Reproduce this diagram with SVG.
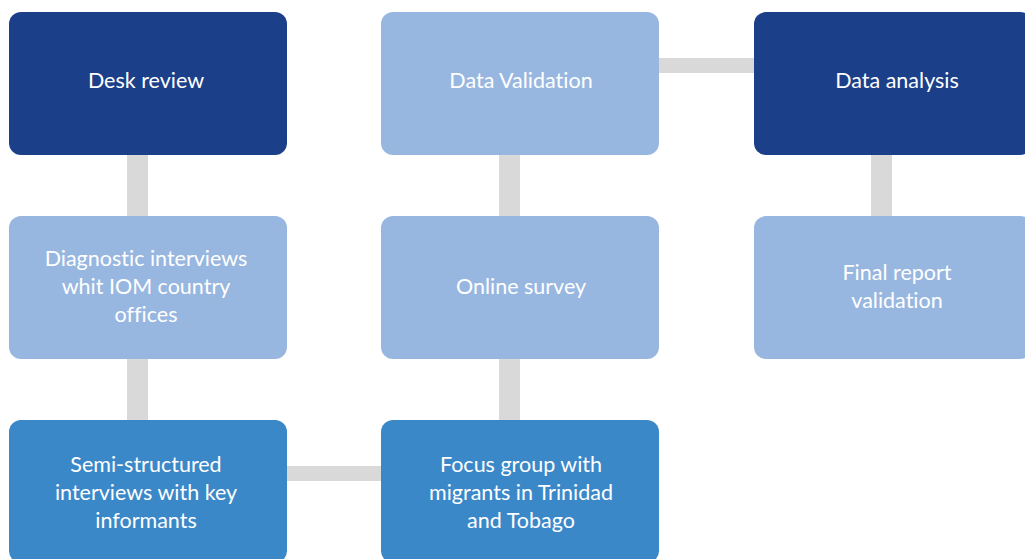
<svg xmlns="http://www.w3.org/2000/svg" width="1025" height="559" viewBox="0 0 1025 559">
  <style>
    .dark { fill: #1c3f8a; }
    .light { fill: #98b7e0; }
    .mid { fill: #3b88c9; }
    .link { fill: #d9d9d9; }
    text { font-family: "Lato", "Open Sans", "Liberation Sans", sans-serif; font-size: 21.5px; fill: #ffffff; text-anchor: middle; font-variant-ligatures: none; font-feature-settings: "liga" 0, "dlig" 0; }
  </style>
  <rect width="1025" height="559" fill="#ffffff"/>

  <!-- connectors (thick grey bars behind the boxes) -->
  <g id="connectors">
    <rect class="link" x="127" y="150" width="21" height="72"/>
    <rect class="link" x="127" y="353" width="21" height="72"/>
    <rect class="link" x="282" y="466" width="105" height="15"/>
    <rect class="link" x="499" y="353" width="21" height="72"/>
    <rect class="link" x="499" y="150" width="21" height="72"/>
    <rect class="link" x="654" y="58" width="105" height="15"/>
    <rect class="link" x="871" y="150" width="21" height="72"/>
  </g>

  <g id="desk-review">
    <rect class="dark" x="9" y="12" width="278" height="143" rx="12"/>
    <text x="146" y="88">Desk review</text>
  </g>
  <g id="diagnostic-interviews">
    <rect class="light" x="9" y="216" width="278" height="143" rx="12"/>
    <text x="146" y="266">Diagnostic interviews</text>
    <text x="146" y="294">whit IOM country</text>
    <text x="146" y="322">offices</text>
  </g>
  <g id="semi-structured-interviews">
    <rect class="mid" x="9" y="420" width="278" height="143" rx="12"/>
    <text x="146" y="472">Semi-structured</text>
    <text x="146" y="500">interviews with key</text>
    <text x="146" y="528">informants</text>
  </g>
  <g id="data-validation">
    <rect class="light" x="381" y="12" width="278" height="143" rx="12"/>
    <text x="521" y="88">Data Validation</text>
  </g>
  <g id="online-survey">
    <rect class="light" x="381" y="216" width="278" height="143" rx="12"/>
    <text x="521" y="294">Online survey</text>
  </g>
  <g id="focus-group">
    <rect class="mid" x="381" y="420" width="278" height="143" rx="12"/>
    <text x="521" y="472">Focus group with</text>
    <text x="521" y="500">migrants in Trinidad</text>
    <text x="521" y="528">and Tobago</text>
  </g>
  <g id="data-analysis">
    <rect class="dark" x="754" y="12" width="278" height="143" rx="12"/>
    <text x="897" y="88">Data analysis</text>
  </g>
  <g id="final-report-validation">
    <rect class="light" x="754" y="216" width="278" height="143" rx="12"/>
    <text x="897" y="280">Final report</text>
    <text x="897" y="308">validation</text>
  </g>
</svg>
